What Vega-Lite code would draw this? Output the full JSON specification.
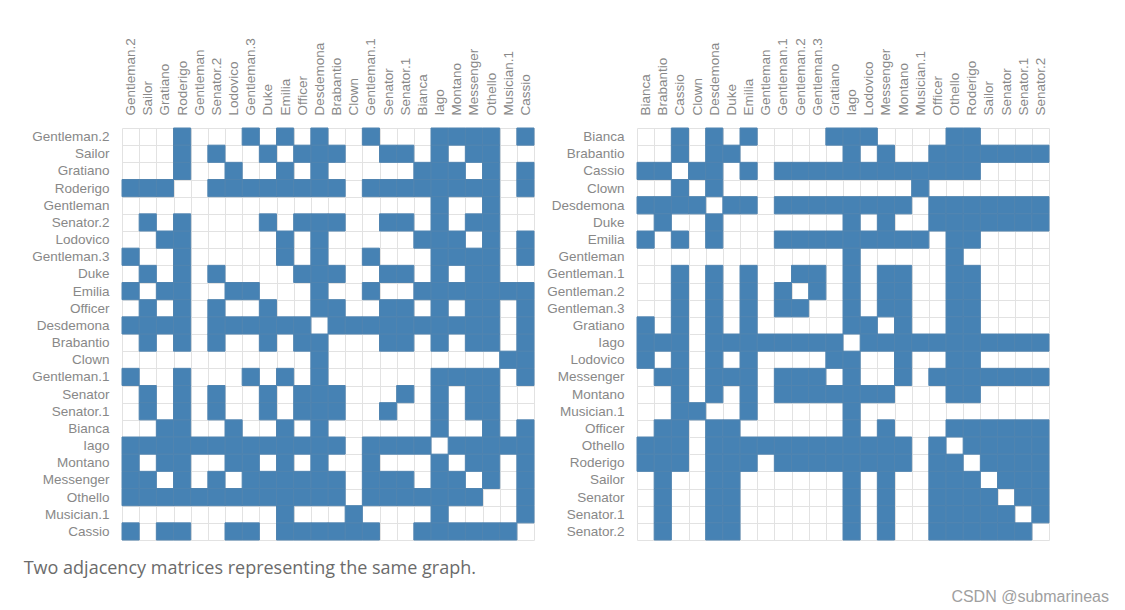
{
  "$schema": "https://vega.github.io/schema/vega-lite/v6.json",
  "padding": {"left": 23, "top": 37, "right": 0, "bottom": 0},
  "background": "white",
  "spacing": 11,
  "config": {
    "view": {"stroke": null},
    "axis": {"domain": false, "ticks": false, "grid": true, "zindex": 0, "tickBand": "extent", "gridColor": "#e2e2e2", "gridWidth": 1, "labelFont": "Liberation Sans", "labelFontSize": 13.5, "labelColor": "#888888", "labelPadding": 13, "title": null}
  },
  "datasets": {
    "edges": [
      {"s":"Bianca","t":"Cassio"},{"s":"Bianca","t":"Desdemona"},{"s":"Bianca","t":"Emilia"},{"s":"Bianca","t":"Gratiano"},{"s":"Bianca","t":"Iago"},{"s":"Bianca","t":"Lodovico"},{"s":"Bianca","t":"Othello"},{"s":"Bianca","t":"Roderigo"},
      {"s":"Brabantio","t":"Cassio"},{"s":"Brabantio","t":"Desdemona"},{"s":"Brabantio","t":"Duke"},{"s":"Brabantio","t":"Iago"},{"s":"Brabantio","t":"Messenger"},{"s":"Brabantio","t":"Officer"},{"s":"Brabantio","t":"Othello"},{"s":"Brabantio","t":"Roderigo"},{"s":"Brabantio","t":"Sailor"},{"s":"Brabantio","t":"Senator"},{"s":"Brabantio","t":"Senator.1"},{"s":"Brabantio","t":"Senator.2"},
      {"s":"Cassio","t":"Bianca"},{"s":"Cassio","t":"Brabantio"},{"s":"Cassio","t":"Clown"},{"s":"Cassio","t":"Desdemona"},{"s":"Cassio","t":"Emilia"},{"s":"Cassio","t":"Gentleman.1"},{"s":"Cassio","t":"Gentleman.2"},{"s":"Cassio","t":"Gentleman.3"},{"s":"Cassio","t":"Gratiano"},{"s":"Cassio","t":"Iago"},{"s":"Cassio","t":"Lodovico"},{"s":"Cassio","t":"Messenger"},{"s":"Cassio","t":"Montano"},{"s":"Cassio","t":"Musician.1"},{"s":"Cassio","t":"Officer"},{"s":"Cassio","t":"Othello"},{"s":"Cassio","t":"Roderigo"},
      {"s":"Clown","t":"Cassio"},{"s":"Clown","t":"Desdemona"},{"s":"Clown","t":"Musician.1"},
      {"s":"Desdemona","t":"Bianca"},{"s":"Desdemona","t":"Brabantio"},{"s":"Desdemona","t":"Cassio"},{"s":"Desdemona","t":"Clown"},{"s":"Desdemona","t":"Duke"},{"s":"Desdemona","t":"Emilia"},{"s":"Desdemona","t":"Gentleman.1"},{"s":"Desdemona","t":"Gentleman.2"},{"s":"Desdemona","t":"Gentleman.3"},{"s":"Desdemona","t":"Gratiano"},{"s":"Desdemona","t":"Iago"},{"s":"Desdemona","t":"Lodovico"},{"s":"Desdemona","t":"Messenger"},{"s":"Desdemona","t":"Montano"},{"s":"Desdemona","t":"Officer"},{"s":"Desdemona","t":"Othello"},{"s":"Desdemona","t":"Roderigo"},{"s":"Desdemona","t":"Sailor"},{"s":"Desdemona","t":"Senator"},{"s":"Desdemona","t":"Senator.1"},{"s":"Desdemona","t":"Senator.2"},
      {"s":"Duke","t":"Brabantio"},{"s":"Duke","t":"Desdemona"},{"s":"Duke","t":"Iago"},{"s":"Duke","t":"Messenger"},{"s":"Duke","t":"Officer"},{"s":"Duke","t":"Othello"},{"s":"Duke","t":"Roderigo"},{"s":"Duke","t":"Sailor"},{"s":"Duke","t":"Senator"},{"s":"Duke","t":"Senator.1"},{"s":"Duke","t":"Senator.2"},
      {"s":"Emilia","t":"Bianca"},{"s":"Emilia","t":"Cassio"},{"s":"Emilia","t":"Desdemona"},{"s":"Emilia","t":"Gentleman.1"},{"s":"Emilia","t":"Gentleman.2"},{"s":"Emilia","t":"Gentleman.3"},{"s":"Emilia","t":"Gratiano"},{"s":"Emilia","t":"Iago"},{"s":"Emilia","t":"Lodovico"},{"s":"Emilia","t":"Messenger"},{"s":"Emilia","t":"Montano"},{"s":"Emilia","t":"Musician.1"},{"s":"Emilia","t":"Othello"},{"s":"Emilia","t":"Roderigo"},
      {"s":"Gentleman","t":"Iago"},{"s":"Gentleman","t":"Othello"},
      {"s":"Gentleman.1","t":"Cassio"},{"s":"Gentleman.1","t":"Desdemona"},{"s":"Gentleman.1","t":"Emilia"},{"s":"Gentleman.1","t":"Gentleman.2"},{"s":"Gentleman.1","t":"Gentleman.3"},{"s":"Gentleman.1","t":"Iago"},{"s":"Gentleman.1","t":"Messenger"},{"s":"Gentleman.1","t":"Montano"},{"s":"Gentleman.1","t":"Othello"},{"s":"Gentleman.1","t":"Roderigo"},
      {"s":"Gentleman.2","t":"Cassio"},{"s":"Gentleman.2","t":"Desdemona"},{"s":"Gentleman.2","t":"Emilia"},{"s":"Gentleman.2","t":"Gentleman.1"},{"s":"Gentleman.2","t":"Gentleman.3"},{"s":"Gentleman.2","t":"Iago"},{"s":"Gentleman.2","t":"Messenger"},{"s":"Gentleman.2","t":"Montano"},{"s":"Gentleman.2","t":"Othello"},{"s":"Gentleman.2","t":"Roderigo"},
      {"s":"Gentleman.3","t":"Cassio"},{"s":"Gentleman.3","t":"Desdemona"},{"s":"Gentleman.3","t":"Emilia"},{"s":"Gentleman.3","t":"Gentleman.1"},{"s":"Gentleman.3","t":"Gentleman.2"},{"s":"Gentleman.3","t":"Iago"},{"s":"Gentleman.3","t":"Messenger"},{"s":"Gentleman.3","t":"Montano"},{"s":"Gentleman.3","t":"Othello"},{"s":"Gentleman.3","t":"Roderigo"},
      {"s":"Gratiano","t":"Bianca"},{"s":"Gratiano","t":"Cassio"},{"s":"Gratiano","t":"Desdemona"},{"s":"Gratiano","t":"Emilia"},{"s":"Gratiano","t":"Iago"},{"s":"Gratiano","t":"Lodovico"},{"s":"Gratiano","t":"Montano"},{"s":"Gratiano","t":"Othello"},{"s":"Gratiano","t":"Roderigo"},
      {"s":"Iago","t":"Bianca"},{"s":"Iago","t":"Brabantio"},{"s":"Iago","t":"Cassio"},{"s":"Iago","t":"Desdemona"},{"s":"Iago","t":"Duke"},{"s":"Iago","t":"Emilia"},{"s":"Iago","t":"Gentleman"},{"s":"Iago","t":"Gentleman.1"},{"s":"Iago","t":"Gentleman.2"},{"s":"Iago","t":"Gentleman.3"},{"s":"Iago","t":"Gratiano"},{"s":"Iago","t":"Lodovico"},{"s":"Iago","t":"Messenger"},{"s":"Iago","t":"Montano"},{"s":"Iago","t":"Musician.1"},{"s":"Iago","t":"Officer"},{"s":"Iago","t":"Othello"},{"s":"Iago","t":"Roderigo"},{"s":"Iago","t":"Sailor"},{"s":"Iago","t":"Senator"},{"s":"Iago","t":"Senator.1"},{"s":"Iago","t":"Senator.2"},
      {"s":"Lodovico","t":"Bianca"},{"s":"Lodovico","t":"Cassio"},{"s":"Lodovico","t":"Desdemona"},{"s":"Lodovico","t":"Emilia"},{"s":"Lodovico","t":"Gratiano"},{"s":"Lodovico","t":"Iago"},{"s":"Lodovico","t":"Montano"},{"s":"Lodovico","t":"Othello"},{"s":"Lodovico","t":"Roderigo"},
      {"s":"Messenger","t":"Brabantio"},{"s":"Messenger","t":"Cassio"},{"s":"Messenger","t":"Desdemona"},{"s":"Messenger","t":"Duke"},{"s":"Messenger","t":"Emilia"},{"s":"Messenger","t":"Gentleman.1"},{"s":"Messenger","t":"Gentleman.2"},{"s":"Messenger","t":"Gentleman.3"},{"s":"Messenger","t":"Iago"},{"s":"Messenger","t":"Montano"},{"s":"Messenger","t":"Officer"},{"s":"Messenger","t":"Othello"},{"s":"Messenger","t":"Roderigo"},{"s":"Messenger","t":"Sailor"},{"s":"Messenger","t":"Senator"},{"s":"Messenger","t":"Senator.1"},{"s":"Messenger","t":"Senator.2"},
      {"s":"Montano","t":"Cassio"},{"s":"Montano","t":"Desdemona"},{"s":"Montano","t":"Emilia"},{"s":"Montano","t":"Gentleman.1"},{"s":"Montano","t":"Gentleman.2"},{"s":"Montano","t":"Gentleman.3"},{"s":"Montano","t":"Gratiano"},{"s":"Montano","t":"Iago"},{"s":"Montano","t":"Lodovico"},{"s":"Montano","t":"Messenger"},{"s":"Montano","t":"Othello"},{"s":"Montano","t":"Roderigo"},
      {"s":"Musician.1","t":"Cassio"},{"s":"Musician.1","t":"Clown"},{"s":"Musician.1","t":"Emilia"},{"s":"Musician.1","t":"Iago"},
      {"s":"Officer","t":"Brabantio"},{"s":"Officer","t":"Cassio"},{"s":"Officer","t":"Desdemona"},{"s":"Officer","t":"Duke"},{"s":"Officer","t":"Iago"},{"s":"Officer","t":"Messenger"},{"s":"Officer","t":"Othello"},{"s":"Officer","t":"Roderigo"},{"s":"Officer","t":"Sailor"},{"s":"Officer","t":"Senator"},{"s":"Officer","t":"Senator.1"},{"s":"Officer","t":"Senator.2"},
      {"s":"Othello","t":"Bianca"},{"s":"Othello","t":"Brabantio"},{"s":"Othello","t":"Cassio"},{"s":"Othello","t":"Desdemona"},{"s":"Othello","t":"Duke"},{"s":"Othello","t":"Emilia"},{"s":"Othello","t":"Gentleman"},{"s":"Othello","t":"Gentleman.1"},{"s":"Othello","t":"Gentleman.2"},{"s":"Othello","t":"Gentleman.3"},{"s":"Othello","t":"Gratiano"},{"s":"Othello","t":"Iago"},{"s":"Othello","t":"Lodovico"},{"s":"Othello","t":"Messenger"},{"s":"Othello","t":"Montano"},{"s":"Othello","t":"Officer"},{"s":"Othello","t":"Roderigo"},{"s":"Othello","t":"Sailor"},{"s":"Othello","t":"Senator"},{"s":"Othello","t":"Senator.1"},{"s":"Othello","t":"Senator.2"},
      {"s":"Roderigo","t":"Bianca"},{"s":"Roderigo","t":"Brabantio"},{"s":"Roderigo","t":"Cassio"},{"s":"Roderigo","t":"Desdemona"},{"s":"Roderigo","t":"Duke"},{"s":"Roderigo","t":"Emilia"},{"s":"Roderigo","t":"Gentleman.1"},{"s":"Roderigo","t":"Gentleman.2"},{"s":"Roderigo","t":"Gentleman.3"},{"s":"Roderigo","t":"Gratiano"},{"s":"Roderigo","t":"Iago"},{"s":"Roderigo","t":"Lodovico"},{"s":"Roderigo","t":"Messenger"},{"s":"Roderigo","t":"Montano"},{"s":"Roderigo","t":"Officer"},{"s":"Roderigo","t":"Othello"},{"s":"Roderigo","t":"Sailor"},{"s":"Roderigo","t":"Senator"},{"s":"Roderigo","t":"Senator.1"},{"s":"Roderigo","t":"Senator.2"},
      {"s":"Sailor","t":"Brabantio"},{"s":"Sailor","t":"Desdemona"},{"s":"Sailor","t":"Duke"},{"s":"Sailor","t":"Iago"},{"s":"Sailor","t":"Messenger"},{"s":"Sailor","t":"Officer"},{"s":"Sailor","t":"Othello"},{"s":"Sailor","t":"Roderigo"},{"s":"Sailor","t":"Senator"},{"s":"Sailor","t":"Senator.1"},{"s":"Sailor","t":"Senator.2"},
      {"s":"Senator","t":"Brabantio"},{"s":"Senator","t":"Desdemona"},{"s":"Senator","t":"Duke"},{"s":"Senator","t":"Iago"},{"s":"Senator","t":"Messenger"},{"s":"Senator","t":"Officer"},{"s":"Senator","t":"Othello"},{"s":"Senator","t":"Roderigo"},{"s":"Senator","t":"Sailor"},{"s":"Senator","t":"Senator.1"},{"s":"Senator","t":"Senator.2"},
      {"s":"Senator.1","t":"Brabantio"},{"s":"Senator.1","t":"Desdemona"},{"s":"Senator.1","t":"Duke"},{"s":"Senator.1","t":"Iago"},{"s":"Senator.1","t":"Messenger"},{"s":"Senator.1","t":"Officer"},{"s":"Senator.1","t":"Othello"},{"s":"Senator.1","t":"Roderigo"},{"s":"Senator.1","t":"Sailor"},{"s":"Senator.1","t":"Senator"},{"s":"Senator.1","t":"Senator.2"},
      {"s":"Senator.2","t":"Brabantio"},{"s":"Senator.2","t":"Desdemona"},{"s":"Senator.2","t":"Duke"},{"s":"Senator.2","t":"Iago"},{"s":"Senator.2","t":"Messenger"},{"s":"Senator.2","t":"Officer"},{"s":"Senator.2","t":"Othello"},{"s":"Senator.2","t":"Roderigo"},{"s":"Senator.2","t":"Sailor"},{"s":"Senator.2","t":"Senator"},{"s":"Senator.2","t":"Senator.1"}
    ]
  },
  "hconcat": [
    {
      "width": 412,
      "height": 412,
      "title": {"text": "Two adjacency matrices representing the same graph.", "orient": "bottom", "anchor": "start", "frame": "bounds", "dx": -8, "offset": 19, "font": "Open Sans", "fontSize": 18, "fontWeight": "normal", "color": "#6b6b6b"},
      "data": {"name": "edges"},
      "mark": {"type": "rect", "fill": "#4682b4", "stroke": "#5084b0", "strokeWidth": 1},
      "encoding": {
        "x": {"field": "t", "type": "nominal", "scale": {"domain": ["Gentleman.2","Sailor","Gratiano","Roderigo","Gentleman","Senator.2","Lodovico","Gentleman.3","Duke","Emilia","Officer","Desdemona","Brabantio","Clown","Gentleman.1","Senator","Senator.1","Bianca","Iago","Montano","Messenger","Othello","Musician.1","Cassio"], "paddingInner": 0, "paddingOuter": 0}, "axis": {"orient": "top", "labelAngle": -90, "labelAlign": "left", "labelBaseline": "middle"}},
        "y": {"field": "s", "type": "nominal", "scale": {"domain": ["Gentleman.2","Sailor","Gratiano","Roderigo","Gentleman","Senator.2","Lodovico","Gentleman.3","Duke","Emilia","Officer","Desdemona","Brabantio","Clown","Gentleman.1","Senator","Senator.1","Bianca","Iago","Montano","Messenger","Othello","Musician.1","Cassio"], "paddingInner": 0, "paddingOuter": 0}, "axis": {"orient": "left"}}
      }
    },
    {
      "width": 412,
      "height": 412,
      "title": {"text": "CSDN @submarineas", "orient": "bottom", "anchor": "end", "frame": "group", "dx": 60, "offset": 48, "font": "Liberation Sans", "fontSize": 16, "fontWeight": "normal", "color": "#a0a0a0"},
      "data": {"name": "edges"},
      "mark": {"type": "rect", "fill": "#4682b4", "stroke": "#5084b0", "strokeWidth": 1},
      "encoding": {
        "x": {"field": "t", "type": "nominal", "scale": {"domain": ["Bianca","Brabantio","Cassio","Clown","Desdemona","Duke","Emilia","Gentleman","Gentleman.1","Gentleman.2","Gentleman.3","Gratiano","Iago","Lodovico","Messenger","Montano","Musician.1","Officer","Othello","Roderigo","Sailor","Senator","Senator.1","Senator.2"], "paddingInner": 0, "paddingOuter": 0}, "axis": {"orient": "top", "labelAngle": -90, "labelAlign": "left", "labelBaseline": "middle"}},
        "y": {"field": "s", "type": "nominal", "scale": {"domain": ["Bianca","Brabantio","Cassio","Clown","Desdemona","Duke","Emilia","Gentleman","Gentleman.1","Gentleman.2","Gentleman.3","Gratiano","Iago","Lodovico","Messenger","Montano","Musician.1","Officer","Othello","Roderigo","Sailor","Senator","Senator.1","Senator.2"], "paddingInner": 0, "paddingOuter": 0}, "axis": {"orient": "left"}}
      }
    }
  ]
}
